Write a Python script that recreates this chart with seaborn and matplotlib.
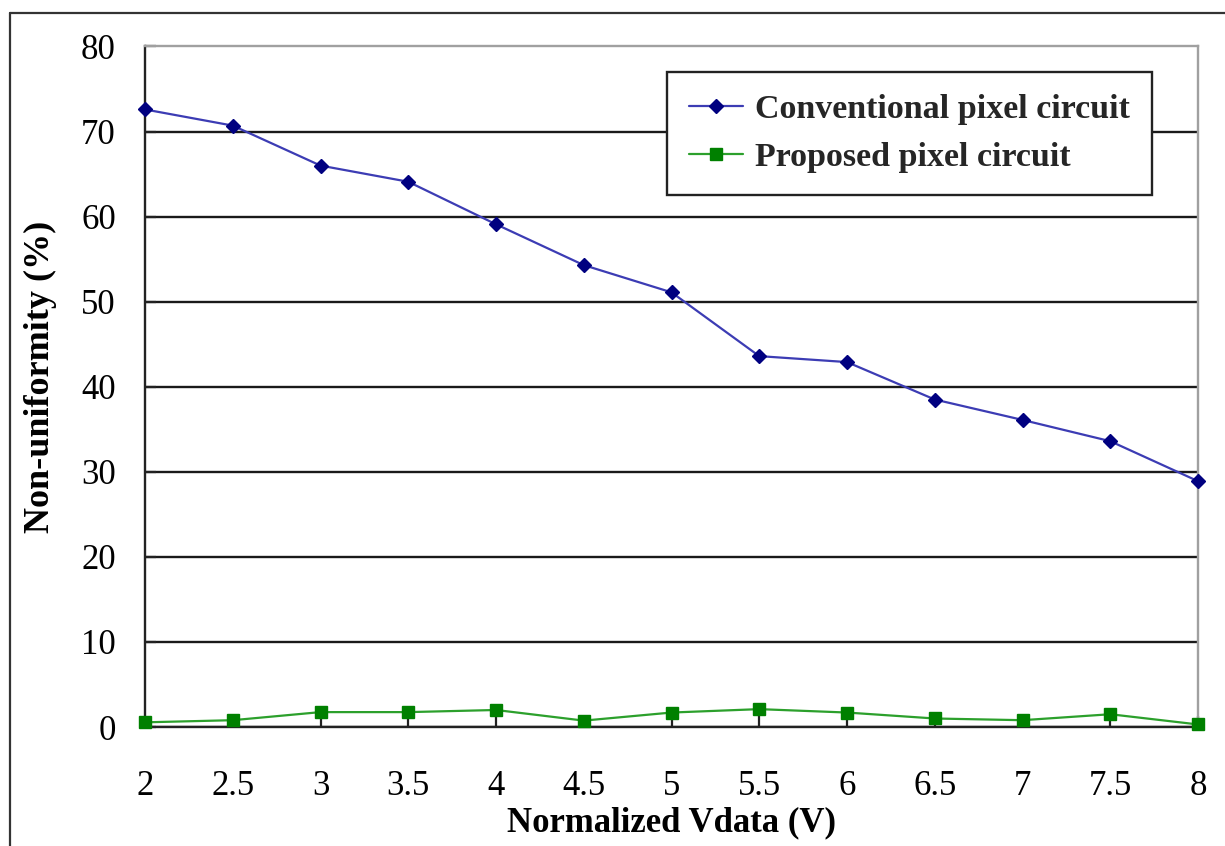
import matplotlib
matplotlib.use("Agg")
import matplotlib.pyplot as plt
from matplotlib.lines import Line2D
import seaborn as sns
import pandas as pd

# Normalized data voltage (V)
vdata = [2, 2.5, 3, 3.5, 4, 4.5, 5, 5.5, 6, 6.5, 7, 7.5, 8]
# Non-uniformity (%) of each pixel circuit
conventional = [72.6, 70.7, 66.0, 64.1, 59.1, 54.3, 51.1, 43.6, 42.9, 38.5, 36.1, 33.6, 28.9]
proposed = [0.55, 0.8, 1.75, 1.75, 2.0, 0.75, 1.7, 2.1, 1.7, 1.0, 0.8, 1.5, 0.3]

series_names = ["Conventional pixel circuit", "Proposed pixel circuit"]
x_ticks = [2, 2.5, 3, 3.5, 4, 4.5, 5, 5.5, 6, 6.5, 7, 7.5, 8]
x_tick_labels = ["2", "2.5", "3", "3.5", "4", "4.5", "5", "5.5", "6", "6.5", "7", "7.5", "8"]
y_ticks = [0, 10, 20, 30, 40, 50, 60, 70, 80]

df = pd.DataFrame({"vdata": vdata, "conv": conventional, "prop": proposed})

sns.set_theme(style="white")
plt.rcParams["font.family"] = ["Liberation Serif", "DejaVu Serif"]

fig = plt.figure(figsize=(12.25, 8.46), dpi=100)
fig.patch.set_facecolor("white")
ax = fig.add_axes([145 / 1225, 1 - 727 / 846, (1198 - 145) / 1225, (727 - 46.5) / 846])

sns.lineplot(data=df, x="vdata", y="conv", ax=ax, color="#3c3cb4", linewidth=1.6,
             marker="D", markersize=7.2, markerfacecolor="#000080",
             markeredgecolor="#000080", markeredgewidth=1, label=series_names[0],
             clip_on=False, zorder=5)
sns.lineplot(data=df, x="vdata", y="prop", ax=ax, color="#2ca02c", linewidth=1.6,
             marker="s", markersize=9, markerfacecolor="#008000",
             markeredgecolor="#008000", markeredgewidth=1, label=series_names[1],
             clip_on=False, zorder=5)

ax.set_xlim(2, 8)
ax.set_ylim(0, 80)
ax.set_xticks(x_ticks)
ax.set_xticklabels(x_tick_labels)
ax.set_yticks(y_ticks)

ax.yaxis.grid(True, color="#1a1a1a", linewidth=1.7)
ax.xaxis.grid(False)
ax.set_axisbelow(True)
ax.yaxis.get_gridlines()[-1].set_visible(False)

for side in ("left", "bottom"):
    ax.spines[side].set_color("#222222")
    ax.spines[side].set_linewidth(1.7)
for side in ("top", "right"):
    ax.spines[side].set_color("#a0a0a0")
    ax.spines[side].set_linewidth(1.7)
    ax.spines[side].set_visible(True)

ax.tick_params(axis="x", direction="in", length=8, width=1.6, color="#222222",
               pad=31, labelsize=25, labelcolor="black", bottom=True)
ax.tick_params(axis="y", direction="in", length=8, width=1.6, color="#222222",
               pad=21, labelsize=25, labelcolor="black", left=True)

ax.set_xlabel("Normalized Vdata (V)", fontsize=25, fontweight="bold", color="black")
ax.set_ylabel("Non-uniformity (%)", fontsize=26, fontweight="bold", color="black")
ax.xaxis.set_label_coords(0.5, -0.116)
ax.yaxis.set_label_coords(-0.084, 0.515)

leg = ax.legend(loc="upper right", bbox_to_anchor=(1152 / 1225, 1 - 72 / 846),
                bbox_transform=fig.transFigure, borderaxespad=0, fancybox=False,
                frameon=True, framealpha=1, edgecolor="#222222",
                prop={"family": "Liberation Serif", "weight": "bold", "size": 24.5},
                handlelength=1.6, handletextpad=0.35, borderpad=0.65, labelspacing=0.5)
leg.get_frame().set_linewidth(1.7)

# Outer border drawn on the figure (left and top edges)
fig.add_artist(Line2D([10 / 1225, 10 / 1225], [0, 1 - 13 / 846],
                      transform=fig.transFigure, color="#333333", linewidth=1.6))
fig.add_artist(Line2D([10 / 1225, 1], [1 - 13 / 846, 1 - 13 / 846],
                      transform=fig.transFigure, color="#333333", linewidth=1.6))

fig.savefig("out.png", dpi=100, facecolor="white")
